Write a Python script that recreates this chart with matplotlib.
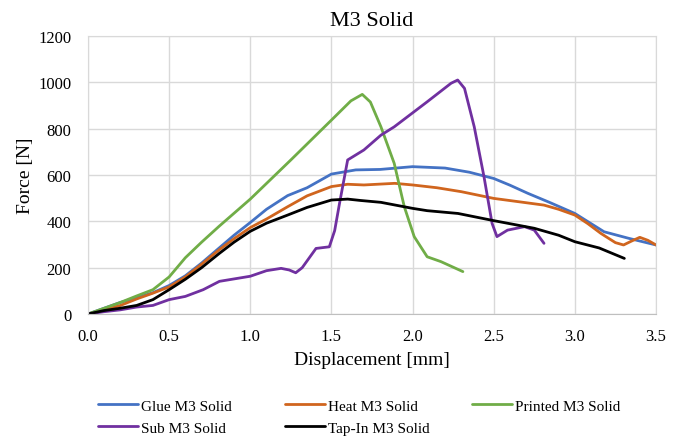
import matplotlib
matplotlib.use('Agg')
import matplotlib.pyplot as plt

plt.rcParams['font.family'] = ['Liberation Serif', 'DejaVu Serif']

# Glue M3 Solid
glue_x = [0, 0.1, 0.2, 0.3, 0.4, 0.5, 0.6, 0.7, 0.81, 0.9, 1.0, 1.1, 1.23, 1.35, 1.5,
          1.65, 1.8, 2.0, 2.2, 2.35, 2.5, 2.6, 2.71, 2.85, 3.0, 3.1, 3.18, 3.33, 3.5]
glue_f = [0, 25, 50, 70, 92, 123, 165, 220, 286, 340, 395, 452, 511, 545, 604,
          622, 624, 636, 630, 612, 585, 556, 521, 480, 434, 390, 355, 327, 298]

# Heat M3 Solid
heat_x = [0, 0.1, 0.2, 0.3, 0.4, 0.5, 0.6, 0.7, 0.81, 0.9, 1.0, 1.1, 1.23, 1.35, 1.5,
          1.6, 1.7, 1.89, 2.0, 2.15, 2.3, 2.5, 2.65, 2.81, 2.9, 3.0, 3.08, 3.16, 3.25,
          3.3, 3.35, 3.4, 3.45, 3.5]
heat_f = [0, 18, 37, 65, 90, 117, 160, 215, 278, 325, 373, 410, 463, 510, 550,
          560, 557, 564, 557, 545, 528, 499, 485, 470, 452, 427, 390, 348, 308,
          298, 315, 331, 318, 298]

# Printed M3 Solid
printed_x = [0, 0.1, 0.2, 0.3, 0.4, 0.5, 0.6, 0.7, 0.81, 1.0, 1.25, 1.5, 1.62, 1.69,
             1.74, 1.805, 1.887, 1.949, 2.01, 2.09, 2.175, 2.31]
printed_f = [0, 25, 50, 78, 105, 160, 243, 310, 380, 496, 665, 837, 920, 948,
             915, 808, 650, 463, 334, 247, 226, 183]

# Sub M3 Solid
sub_x = [0, 0.1, 0.2, 0.3, 0.4, 0.5, 0.6, 0.71, 0.81, 1.0, 1.1, 1.19, 1.24, 1.28, 1.32,
         1.405, 1.487, 1.52, 1.55, 1.6, 1.7, 1.805, 1.887, 2.09, 2.237, 2.278, 2.32,
         2.38, 2.44, 2.49, 2.52, 2.585, 2.69, 2.75, 2.81]
sub_f = [0, 10, 18, 30, 37, 62, 76, 105, 141, 163, 187, 197, 190, 178, 200,
         283, 290, 360, 478, 665, 708, 772, 808, 916, 996, 1010, 974,
         808, 593, 391, 334, 362, 377, 362, 305]

# Tap-In M3 Solid
tap_x = [0, 0.1, 0.2, 0.3, 0.4, 0.5, 0.6, 0.7, 0.81, 0.9, 1.0, 1.1, 1.23, 1.35, 1.5,
         1.6, 1.68, 1.805, 2.0, 2.09, 2.28, 2.5, 2.75, 2.9, 3.0, 3.15, 3.305]
tap_f = [0, 15, 25, 37, 62, 105, 150, 200, 262, 310, 357, 392, 427, 460, 492,
         496, 490, 482, 456, 446, 434, 403, 370, 340, 312, 285, 240]

series = [
    ('Glue M3 Solid', glue_x, glue_f, '#4472C4'),
    ('Heat M3 Solid', heat_x, heat_f, '#D0651E'),
    ('Printed M3 Solid', printed_x, printed_f, '#70AD47'),
    ('Sub M3 Solid', sub_x, sub_f, '#7030A0'),
    ('Tap-In M3 Solid', tap_x, tap_f, '#000000'),
]

W, H = 683, 439
fig = plt.figure(figsize=(W / 100, H / 100), dpi=100)
ax = fig.add_axes([88 / W, 1 - 315 / H, (656 - 88) / W, (315 - 37) / H])

lines = {}
for name, xs, fs, color in series:
    ln, = ax.plot(xs, fs, color=color, lw=2.0, label=name,
                  solid_joinstyle='round', solid_capstyle='round')
    lines[name] = ln

ax.set_xlim(0, 3.5)
ax.set_ylim(0, 1200)
ax.set_xticks([0, 0.5, 1.0, 1.5, 2.0, 2.5, 3.0, 3.5])
ax.set_xticklabels(['0.0', '0.5', '1.0', '1.5', '2.0', '2.5', '3.0', '3.5'])
ax.set_yticks(range(0, 1201, 200))
ax.grid(True, color='#d9d9d9', lw=1.0)
ax.set_axisbelow(True)
for side in ['top', 'right', 'left']:
    ax.spines[side].set_color('#d9d9d9')
ax.spines['bottom'].set_color('#bfbfbf')
ax.tick_params(axis='y', length=0, labelsize=12, pad=12)
ax.tick_params(axis='x', length=0, labelsize=12, pad=10)

ax.set_title('M3 Solid', fontsize=16, pad=8)
ax.set_xlabel('Displacement [mm]', fontsize=14, labelpad=5)
ax.set_ylabel('Force [N]', fontsize=14, labelpad=3)

# legend columns laid out like the spreadsheet: equal-width columns
columns = [
    (['Glue M3 Solid', 'Sub M3 Solid'], 98),
    (['Heat M3 Solid', 'Tap-In M3 Solid'], 285),
    (['Printed M3 Solid'], 472),
]
for names, x0 in columns:
    leg = fig.legend([lines[n] for n in names], names, loc='upper left',
                     bbox_to_anchor=(x0 / W, 1 - 400 / H), frameon=False,
                     fontsize=11, handlelength=2.6, handletextpad=0.2,
                     labelspacing=0.55, borderpad=0, borderaxespad=0)

fig.savefig('out.png', dpi=100)
